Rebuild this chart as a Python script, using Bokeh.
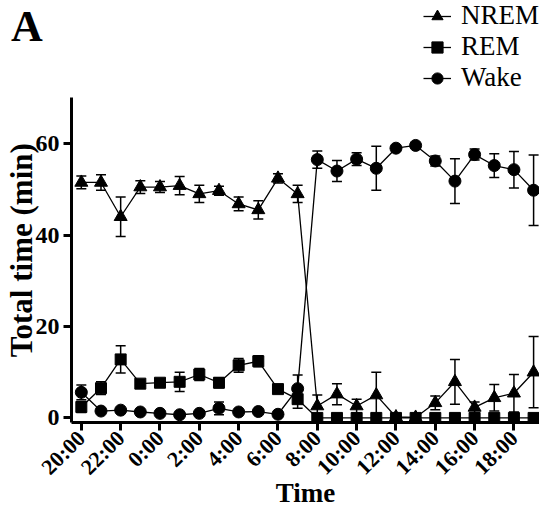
import numpy as np
from bokeh.plotting import figure
from bokeh.layouts import column
from bokeh.models import (ColumnDataSource, Whisker, TeeHead, FixedTicker, Legend,
                          LegendItem, Range1d, Div)
from bokeh.embed import file_html
from bokeh.resources import INLINE

hours = ["20:00", "21:00", "22:00", "23:00", "0:00", "1:00", "2:00", "3:00",
         "4:00", "5:00", "6:00", "7:00", "8:00", "9:00", "10:00", "11:00",
         "12:00", "13:00", "14:00", "15:00", "16:00", "17:00", "18:00", "19:00"]
tick_labels = ["20:00", "22:00", "0:00", "2:00", "4:00", "6:00", "8:00",
               "10:00", "12:00", "14:00", "16:00", "18:00"]
y_ticks = [0, 20, 40, 60]

nrem_mean = [51.5, 51.5, 44.0, 50.5, 50.5, 50.8, 49.0, 49.7, 46.8, 45.5, 52.4, 49.0,
             2.6, 5.2, 2.6, 5.0, 0.2, 0.1, 3.3, 7.9, 2.3, 4.4, 5.4, 10.0]
nrem_err = [1.4, 1.7, 4.3, 1.4, 1.2, 2.0, 1.9, 1.0, 1.5, 2.0, 1.0, 1.9,
            2.4, 2.3, 1.5, 5.0, 0.0, 0.0, 1.5, 4.9, 1.2, 2.9, 4.1, 7.8]
rem_mean = [2.4, 6.5, 12.8, 7.5, 7.7, 7.9, 9.5, 7.7, 11.5, 12.4, 6.3, 4.1,
            0, 0, 0, 0, 0, 0, 0, 0, 0, 0, 0, 0]
rem_err = [1.2, 1.4, 3.0, 0.5, 0.5, 2.1, 1.3, 1.1, 1.5, 1.2, 0.5, 2.0,
           0, 0, 0, 0, 0, 0, 0, 0, 0, 0, 0, 0]
wake_mean = [5.6, 1.5, 1.7, 1.3, 1.0, 0.7, 1.0, 2.1, 1.3, 1.4, 0.8, 6.4,
             56.5, 54.0, 56.6, 54.6, 59.0, 59.6, 56.2, 51.8, 57.6, 55.2, 54.3, 49.8]
wake_err = [1.6, 0.3, 0.3, 0.3, 0.3, 0.3, 0.3, 1.4, 0.3, 0.3, 0.3, 3.0,
            1.9, 2.3, 1.4, 4.8, 0.3, 0.3, 1.1, 4.9, 1.2, 2.6, 4.0, 7.7]

x = np.arange(len(hours))
SERIF = "Liberation Serif"

p = figure(width=539, height=514, x_range=Range1d(-0.5, 23.3),
           y_range=Range1d(-1.0, 91.3), output_backend="svg",
           toolbar_location=None, min_border_left=70, min_border_right=0,
           min_border_top=0, min_border_bottom=92)
p.outline_line_color = None
p.grid.visible = False
p.border_fill_color = None
p.background_fill_color = None

# axes
p.xaxis.ticker = FixedTicker(ticks=[hours.index(t) for t in tick_labels])
p.xaxis.major_label_overrides = {hours.index(t): t for t in tick_labels}
p.xaxis.major_label_orientation = np.pi / 4
p.yaxis.ticker = FixedTicker(ticks=y_ticks)
p.yaxis.bounds = (-1.0, 70)
for ax in (p.xaxis[0], p.yaxis[0]):
    ax.axis_line_width = 3
    ax.axis_line_color = "black"
    ax.major_tick_line_width = 3
    ax.major_tick_out = 8
    ax.major_tick_in = 0
    ax.minor_tick_line_color = None
    ax.major_label_text_font = SERIF
    ax.major_label_text_font_style = "bold"
    ax.major_label_text_color = "black"
    ax.axis_label_text_font = SERIF
    ax.axis_label_text_font_style = "bold"
    ax.axis_label_text_color = "black"
    ax.major_label_standoff = 4
p.xaxis.major_label_text_font_size = "22px"
p.yaxis.major_label_text_font_size = "24px"
p.xaxis.axis_label = "Time"
# trailing no-break spaces move the centred title down next to the drawn axis
p.yaxis.axis_label = "Total time (min)" + "\u00a0" * 10
p.xaxis.axis_label_text_font_size = "27px"
p.yaxis.axis_label_text_font_size = "31px"
p.xaxis.axis_label_standoff = -13
p.yaxis.axis_label_standoff = -6


def add_series(mean, err, marker, size):
    mean = np.array(mean, dtype=float)
    err = np.array(err, dtype=float)
    mask = err > 0
    src = ColumnDataSource(dict(x=x[mask], upper=(mean + err)[mask],
                                lower=np.maximum(mean - err, 0)[mask]))
    w = Whisker(source=src, base="x", upper="upper", lower="lower",
                line_color="black", line_width=1.5,
                upper_head=TeeHead(size=10, line_width=1.5, line_color="black"),
                lower_head=TeeHead(size=10, line_width=1.5, line_color="black"))
    p.add_layout(w)
    ln = p.line(x, mean, line_color="black", line_width=1.3)
    sc = p.scatter(x, mean, marker=marker, size=size, fill_color="black",
                   line_color="black")
    return [ln, sc]


r_nrem = add_series(nrem_mean, nrem_err, "triangle", 13)
r_rem = add_series(rem_mean, rem_err, "square", 11)
r_wake = add_series(wake_mean, wake_err, "circle", 12)

legend = Legend(items=[LegendItem(label="NREM", renderers=r_nrem),
                       LegendItem(label="REM", renderers=r_rem),
                       LegendItem(label="Wake", renderers=r_wake)],
                location="top_right")
legend.label_text_font = SERIF
legend.label_text_font_size = "27px"
legend.label_text_color = "black"
legend.glyph_width = 28
legend.glyph_height = 28
legend.label_standoff = 10
legend.spacing = 0
legend.padding = 0
legend.margin = 0
legend.border_line_color = None
legend.background_fill_alpha = 0
p.add_layout(legend)

panel_letter = Div(text='<div style="position:relative;left:11px;top:0px">A</div>',
                   width=60, height=50, margin=(5, 0, -55, 0),
                   styles={"font-family": SERIF, "font-weight": "bold",
                           "font-size": "44px", "line-height": "1",
                           "color": "black"})

page = column(panel_letter, p, spacing=0)

open("out.html", "w").write(file_html(page, INLINE))
